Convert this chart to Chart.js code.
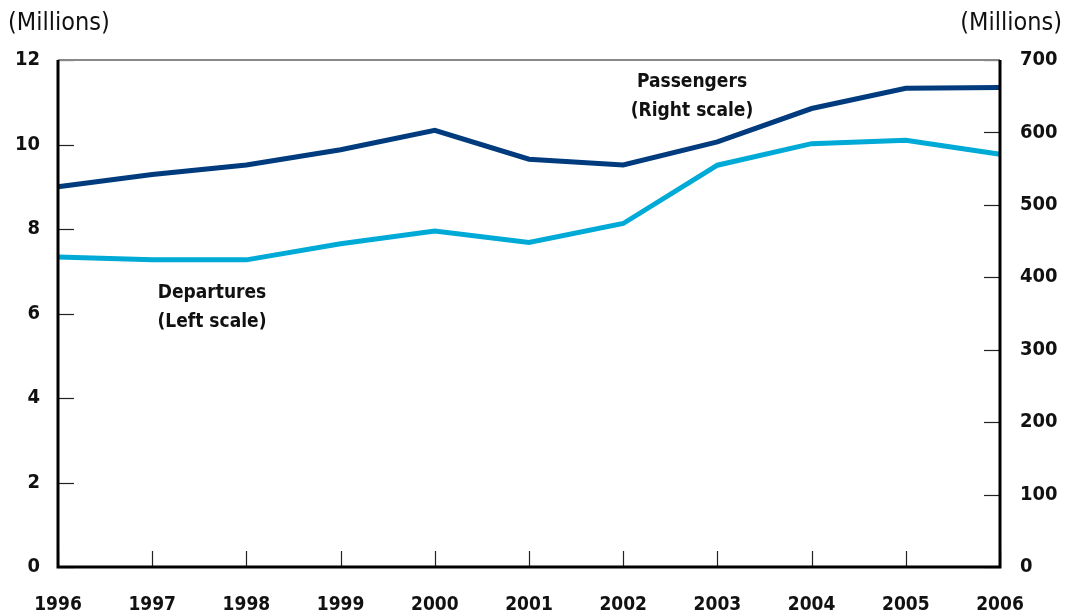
<!DOCTYPE html>
<html>
<head>
<meta charset="utf-8">
<script src="https://cdn.jsdelivr.net/npm/chart.js@4/dist/chart.umd.min.js"></script>
<style>
  html, body { margin: 0; padding: 0; background: #fff; }
  #wrap { width: 1065px; height: 616px; position: relative; }
</style>
</head>
<body>
<div id="wrap"><canvas id="chart"></canvas></div>
<script>
const years = ["1996", "1997", "1998", "1999", "2000", "2001", "2002", "2003", "2004", "2005", "2006"];
// departures, millions (left scale)
const departures = [7.34, 7.27, 7.27, 7.65, 7.95, 7.68, 8.13, 9.51, 10.02, 10.1, 9.77];
// passengers, millions (right scale)
const passengers = [525, 542, 555, 576, 603, 563, 555, 587, 633, 661, 662];
const leftTicks = [0, 2, 4, 6, 8, 10, 12];
const rightTicks = [0, 100, 200, 300, 400, 500, 600, 700];

const FONT = "'Liberation Sans Narrow', 'DejaVu Sans Condensed', 'Arial Narrow', sans-serif";
const DARK = "#003b7d";
const LIGHT = "#00aad6";

// inward tick marks, frame and text labels
const decor = {
  id: "decor",
  afterDraw(chart) {
    const c = chart.ctx;
    const a = chart.chartArea;
    const x = chart.scales.x, yl = chart.scales.yl, yr = chart.scales.yr;
    c.save();
    c.strokeStyle = "#222";
    c.lineWidth = 1.2;
    leftTicks.forEach(v => {
      const p = Math.round(yl.getPixelForValue(v)) + 0.5;
      c.beginPath(); c.moveTo(a.left, p); c.lineTo(a.left + 16, p); c.stroke();
    });
    rightTicks.forEach(v => {
      const p = Math.round(yr.getPixelForValue(v)) + 0.5;
      c.beginPath(); c.moveTo(a.right, p); c.lineTo(a.right - 16, p); c.stroke();
    });
    years.forEach((y, i) => {
      const p = Math.round(x.getPixelForValue(i)) + 0.5;
      c.beginPath(); c.moveTo(p, a.bottom); c.lineTo(p, a.bottom - 16); c.stroke();
    });
    // frame
    c.strokeStyle = "#888";
    c.lineWidth = 2;
    c.beginPath(); c.moveTo(a.left, a.top); c.lineTo(a.right, a.top); c.stroke();
    c.strokeStyle = "#000";
    c.lineWidth = 3;
    c.beginPath();
    c.moveTo(a.left, a.top); c.lineTo(a.left, a.bottom); c.lineTo(a.right, a.bottom); c.lineTo(a.right, a.top);
    c.stroke();
    // text
    c.fillStyle = "#111";
    c.font = "25px " + FONT;
    c.textBaseline = "middle";
    c.textAlign = "left";
    c.fillText("(Millions)", 8, 23);
    c.textAlign = "right";
    c.fillText("(Millions)", 1062, 23);
    c.font = "bold 19px " + FONT;
    c.textAlign = "center";
    c.fillText("Passengers", 692, 82);
    c.fillText("(Right scale)", 692, 111);
    c.fillText("Departures", 212, 293);
    c.fillText("(Left scale)", 212, 322);
    c.restore();
  }
};

new Chart(document.getElementById("chart"), {
  type: "line",
  data: {
    labels: years,
    datasets: [
      { label: "Passengers", data: passengers, yAxisID: "yr", borderColor: DARK, borderWidth: 5, pointRadius: 0, tension: 0 },
      { label: "Departures", data: departures, yAxisID: "yl", borderColor: LIGHT, borderWidth: 5, pointRadius: 0, tension: 0 }
    ]
  },
  options: {
    responsive: true,
    maintainAspectRatio: false,
    animation: false,
    layout: { padding: { top: 60, left: 0, right: 0, bottom: 0 } },
    plugins: { legend: { display: false }, tooltip: { enabled: false } },
    scales: {
      x: {
        offset: false,
        grid: { display: false, drawTicks: false },
        border: { display: false },
        ticks: { color: "#111", font: { family: FONT, size: 19, weight: "bold" }, padding: 27, maxRotation: 0, autoSkip: false },
        afterFit(s) { s.height = 49; }
      },
      yl: {
        position: "left",
        min: 0, max: 12,
        afterBuildTicks(s) { s.ticks = leftTicks.map(v => ({ value: v })); },
        grid: { display: false, drawTicks: false },
        border: { display: false },
        ticks: { color: "#111", font: { family: FONT, size: 20, weight: "bold" }, padding: 18 },
        afterFit(s) { s.width = 58; }
      },
      yr: {
        position: "right",
        min: 0, max: 700,
        afterBuildTicks(s) { s.ticks = rightTicks.map(v => ({ value: v })); },
        grid: { display: false, drawTicks: false },
        border: { display: false },
        ticks: { color: "#111", font: { family: FONT, size: 20, weight: "bold" }, padding: 20 },
        afterFit(s) { s.width = 65; }
      }
    }
  },
  plugins: [decor]
});
</script>
</body>
</html>
